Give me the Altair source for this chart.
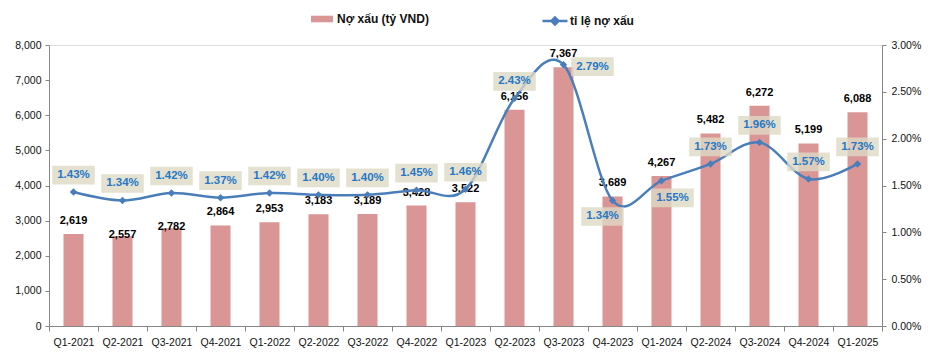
import altair as alt
import pandas as pd

quarters = ["Q1-2021", "Q2-2021", "Q3-2021", "Q4-2021", "Q1-2022", "Q2-2022",
            "Q3-2022", "Q4-2022", "Q1-2023", "Q2-2023", "Q3-2023", "Q4-2023",
            "Q1-2024", "Q2-2024", "Q3-2024", "Q4-2024", "Q1-2025"]
npl = [2619, 2557, 2782, 2864, 2953, 3183, 3189, 3428, 3522, 6156, 7367, 3689,
       4267, 5482, 6272, 5199, 6088]
ratio_pct = [1.43, 1.34, 1.42, 1.37, 1.42, 1.40, 1.40, 1.45, 1.46, 2.43, 2.79,
             1.34, 1.55, 1.73, 1.96, 1.57, 1.73]
left_ticks = [0, 1000, 2000, 3000, 4000, 5000, 6000, 7000, 8000]
right_ticks = [0, 0.005, 0.01, 0.015, 0.02, 0.025, 0.03]
# label placement (style categories)
pct_place = ["above"] * 10 + ["right", "below_left", "below_right"] + ["above"] * 4
bar_place = ["above", "top", "top"] + ["above"] * 14

bar_name = "Nợ xấu (tỷ VND)"
line_name = "tỉ lệ nợ xấu"

df = pd.DataFrame({
    "quarter": quarters,
    "npl": npl,
    "ratio": [r / 100 for r in ratio_pct],
    "pct_place": pct_place,
    "bar_place": bar_place,
})

FONT = "Liberation Sans"
BAR_COLOR = "#D99694"
LINE_COLOR = "#4A7EBB"
PCT_COLOR = "#2478C6"
BOX_COLOR = "#DDD9C4"
AXIS_GREY = "#868686"

x_enc = alt.X("quarter:N", sort=quarters, title=None,
              scale=alt.Scale(paddingInner=0, paddingOuter=0),
              axis=alt.Axis(labelAngle=0, tickBand="extent", tickSize=5,
                            labelPadding=6, domainColor=AXIS_GREY,
                            tickColor=AXIS_GREY, labelFont=FONT,
                            labelFontSize=10.5, labelColor="#111"))
x_plain = alt.X("quarter:N", sort=quarters)

y_left = alt.Y("npl:Q", title=None,
               scale=alt.Scale(domain=[0, 8000], nice=False),
               axis=alt.Axis(orient="left", values=left_ticks,
                             format=",.0f", grid=False, tickSize=4, labelPadding=4,
                             labelOverlap=False,
                             domainColor=AXIS_GREY, tickColor=AXIS_GREY,
                             labelFont=FONT, labelFontSize=10.5,
                             labelColor="#111"))

y_right = alt.Y("ratio:Q", title=None,
                scale=alt.Scale(domain=[0, 0.03], nice=False),
                axis=alt.Axis(orient="right", values=right_ticks,
                              format=".2%", grid=False, tickSize=4,
                              labelPadding=5, labelOverlap=False,
                              domainColor=AXIS_GREY,
                              tickColor=AXIS_GREY, labelFont=FONT,
                              labelFontSize=10.5, labelColor="#111"))

base = alt.Chart(df)

bars = base.transform_calculate(series=f"'{bar_name}'").mark_bar(size=20).encode(
    x=x_enc,
    y=y_left,
    fill=alt.Fill("series:N", title=None,
                  scale=alt.Scale(domain=[bar_name], range=[BAR_COLOR]),
                  legend=alt.Legend(orient="none", legendX=262, legendY=-37,
                                    symbolType="M-1,-0.3H1V0.3H-1Z",
                                    symbolSize=484, symbolStrokeWidth=0,
                                    labelFont=FONT, labelFontWeight="bold",
                                    labelFontSize=12, labelColor="#111",
                                    labelOffset=4)),
)

bar_offsets = {"above": -13, "top": -1}
bar_labels = []
for place, dy in bar_offsets.items():
    bar_labels.append(
        base.transform_filter(alt.datum.bar_place == place)
        .mark_text(dy=dy, font=FONT, fontSize=11, fontWeight="bold",
                   color="#000", baseline="middle")
        .encode(x=x_plain, y=y_left,
                text=alt.Text("npl:Q", format=",.0f"))
    )

left = alt.layer(bars, *bar_labels)

line = base.transform_calculate(series=f"'{line_name}'").mark_line(
    interpolate="cardinal", strokeWidth=2.5).encode(
    x=x_plain,
    y=y_right,
    stroke=alt.Stroke("series:N", title=None,
                      scale=alt.Scale(domain=[line_name], range=[LINE_COLOR]),
                      legend=alt.Legend(orient="none", legendX=492, legendY=-38,
                                        symbolType="M-1,0H1M-0.28,0L0,-0.28L0.28,0L0,0.28Z",
                                        symbolSize=625, symbolStrokeWidth=2.5,
                                        symbolFillColor=LINE_COLOR,
                                        labelFont=FONT, labelFontWeight="bold",
                                        labelFontSize=12, labelColor="#111",
                                        labelOffset=1)),
)

points = base.mark_point(shape="diamond", filled=True, size=55,
                         color=LINE_COLOR, opacity=1).encode(
    x=x_plain, y=y_right)

pct_offsets = {"above": (0, -17), "right": (29, 2),
               "below_left": (-10, 16), "below_right": (11, 17)}
BOX_PATH = "M-1.25,-0.55L1.25,-0.55L1.25,0.55L-1.25,0.55Z"
pct_layers = []
for place, (dx, dy) in pct_offsets.items():
    sub = base.transform_filter(alt.datum.pct_place == place)
    box = sub.mark_point(shape=BOX_PATH, size=1156, filled=True, fill=BOX_COLOR,
                         opacity=0.8, strokeWidth=0, xOffset=dx, yOffset=dy
                         ).encode(x=x_plain, y=y_right)
    txt = sub.mark_text(dx=dx, dy=dy, font=FONT, fontSize=11.5,
                        fontWeight="bold", color=PCT_COLOR, baseline="middle"
                        ).encode(x=x_plain, y=y_right,
                                 text=alt.Text("ratio:Q", format=".2%"))
    pct_layers += [box, txt]

right = alt.layer(line, points, *pct_layers)

chart = alt.layer(left, right).resolve_scale(
    y="independent", fill="independent", stroke="independent"
).properties(
    width=833, height=281,
    autosize=alt.AutoSizeParams(type="none"),
    padding={"left": 41, "top": 37, "right": 51, "bottom": 24},
).configure_view(stroke=None).configure(background="white")

chart.save("out.html", embed_options={"renderer": "svg", "actions": False})
